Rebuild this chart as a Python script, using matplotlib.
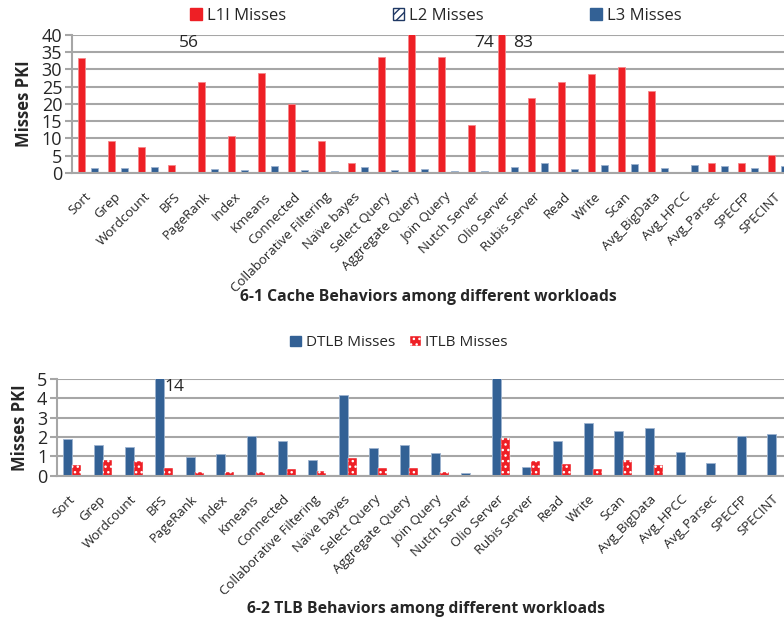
import numpy as np
import matplotlib.pyplot as plt
import matplotlib.transforms as mtransforms
from matplotlib.patches import Patch

plt.rcParams['font.family'] = ['Open Sans', 'DejaVu Sans']
plt.rcParams['hatch.linewidth'] = 1.0
plt.rcParams['hatch.color'] = 'white'

# workload names, same order in both charts
workloads = ["Sort", "Grep", "Wordcount", "BFS", "PageRank", "Index", "Kmeans",
             "Connected", "Collaborative Filtering", "Na\u00efve bayes", "Select Query",
             "Aggregate Query", "Join Query", "Nutch Server", "Olio Server",
             "Rubis Server", "Read", "Write", "Scan", "Avg_BigData", "Avg_HPCC",
             "Avg_Parsec", "SPECFP", "SPECINT"]

# cache misses per kilo instructions
l1iMisses = [33.3, 9.2, 7.4, 2.2, 26.4, 10.7, 29.0, 20.0, 9.4, 2.8, 33.5,
             56.0, 33.6, 13.8, 83.0, 21.8, 26.4, 28.6, 30.8, 23.9, 0.1,
             2.8, 3.0, 5.3]
l2Misses = [0.0, 0.0, 0.0, 0.0, 0.0, 0.0, 0.0, 0.0, 0.0, 0.0, 0.0, 0.0,
            0.0, 0.0, 0.0, 0.0, 0.0, 0.0, 0.0, 0.0, 0.0, 0.0, 0.0, 0.0]
l3Misses = [1.4, 1.4, 1.7, 0.2, 1.2, 1.0, 2.0, 1.0, 0.7, 1.8, 1.0,
            1.2, 0.7, 0.5, 1.8, 2.8, 1.2, 2.4, 2.6, 1.4, 2.2,
            2.1, 1.3, 1.9]

# TLB misses per kilo instructions
dtlbMisses = [1.9, 1.6, 1.5, 14.0, 0.95, 1.1, 2.07, 1.78, 0.83, 4.18, 1.43,
              1.6, 1.18, 0.16, 5.5, 0.45, 1.78, 2.73, 2.3, 2.45, 1.23,
              0.67, 2.06, 2.16]
itlbMisses = [0.57, 0.83, 0.76, 0.4, 0.21, 0.18, 0.2, 0.36, 0.23, 0.9, 0.38,
              0.39, 0.19, 0.03, 1.94, 0.76, 0.6, 0.37, 0.8, 0.54, 0.0,
              0.0, 0.03, 0.05]

red = '#ee1f25'
blue = '#336195'
navy = '#1f3864'
gridGray = '#a6a6a6'
textColor = '#262626'

x = np.arange(len(workloads))

fig = plt.figure(figsize=(7.84, 6.22), dpi=100)
labelShift = mtransforms.ScaledTranslation(-4 / 100, -6 / 100, fig.dpi_scale_trans)


def styleAxes(ax, top, step):
    ax.set_ylim(0, top)
    ax.set_yticks(np.arange(0, top + step, step))
    ax.yaxis.grid(True, color=gridGray, linewidth=1.5)
    ax.set_axisbelow(True)
    for side in ['top', 'right']:
        ax.spines[side].set_visible(False)
    for side in ['left', 'bottom']:
        ax.spines[side].set_color(gridGray)
        ax.spines[side].set_linewidth(1.5)
    ax.tick_params(axis='y', length=5, width=1.5, color=gridGray,
                   labelsize=13, labelcolor=textColor, pad=2)
    ax.tick_params(axis='x', length=0, labelsize=9.5, labelcolor=textColor, pad=8)
    ax.set_xticks(x, workloads, rotation=45, ha='right', rotation_mode='anchor')
    for lbl in ax.get_xticklabels():
        lbl.set_transform(lbl.get_transform() + labelShift)
    ax.set_ylabel("Misses PKI", fontsize=12, fontweight='bold', color=textColor,
                  labelpad=6)


# chart 6-1: cache misses
cacheAx = fig.add_axes([0.0918, 0.7219, 0.9082, 0.2219])
w = 0.22
cacheAx.bar(x - 0.217, l1iMisses, w, color=red, edgecolor='#f5878a', linewidth=0.6)
cacheAx.bar(x, l2Misses, w, facecolor='white', edgecolor=navy, hatch='////',
            linewidth=0.6)
cacheAx.bar(x + 0.217, l3Misses, w, color=blue, edgecolor='#9db3cf', linewidth=0.6)
styleAxes(cacheAx, 40, 5)
cacheAx.set_xlim(-0.533, 23.2)

# values of the bars cut off by the axis
cacheAx.text(3.35, 37.6, "56", fontsize=12.5, color=textColor, ha='center', va='center')
cacheAx.text(13.55, 37.6, "74", fontsize=12.5, color=textColor, ha='right', va='center')
cacheAx.text(14.17, 37.6, "83", fontsize=12.5, color=textColor, ha='left', va='center')

cacheHandles = [Patch(facecolor=red, edgecolor=red),
                Patch(facecolor='white', edgecolor=navy, hatch='////'),
                Patch(facecolor=blue, edgecolor=blue)]
fig.legend(cacheHandles, ["L1I Misses", "L2 Misses", "L3 Misses"],
           loc='center', bbox_to_anchor=(0.556, 0.975), ncol=3, frameon=False,
           fontsize=12, handlelength=0.7, handleheight=0.7, handletextpad=0.3,
           columnspacing=6.4, labelcolor=textColor)

fig.text(0.546, 0.522, "6-1 Cache Behaviors among different workloads",
         fontsize=11.3, fontweight='bold', color=textColor, ha='center', va='center')

# chart 6-2: TLB misses
tlbAx = fig.add_axes([0.0727, 0.2352, 0.9273, 0.1555])
w2 = 0.294
tlbAx.bar(x - w2 / 2, dtlbMisses, w2, color=blue, edgecolor='#9db3cf', linewidth=0.6)
tlbAx.bar(x + w2 / 2, itlbMisses, w2, facecolor=red, edgecolor='white', hatch='...',
          linewidth=0.3)
styleAxes(tlbAx, 5, 1)
tlbAx.set_xlim(-0.5, 23.25)

tlbAx.text(3.02, 4.6, "14", fontsize=12.5, color=textColor, ha='left', va='center')

tlbHandles = [Patch(facecolor=blue, edgecolor=blue),
              Patch(facecolor=red, edgecolor='white', hatch='...', linewidth=0.3)]
fig.legend(tlbHandles, ["DTLB Misses", "ITLB Misses"],
           loc='center', bbox_to_anchor=(0.509, 0.449), ncol=2, frameon=False,
           fontsize=11, handlelength=0.7, handleheight=0.7, handletextpad=0.3,
           columnspacing=1.0, labelcolor=textColor)

fig.text(0.543, 0.021, "6-2 TLB Behaviors among different workloads",
         fontsize=11.3, fontweight='bold', color=textColor, ha='center', va='center')

fig.savefig("out.png", dpi=100)
